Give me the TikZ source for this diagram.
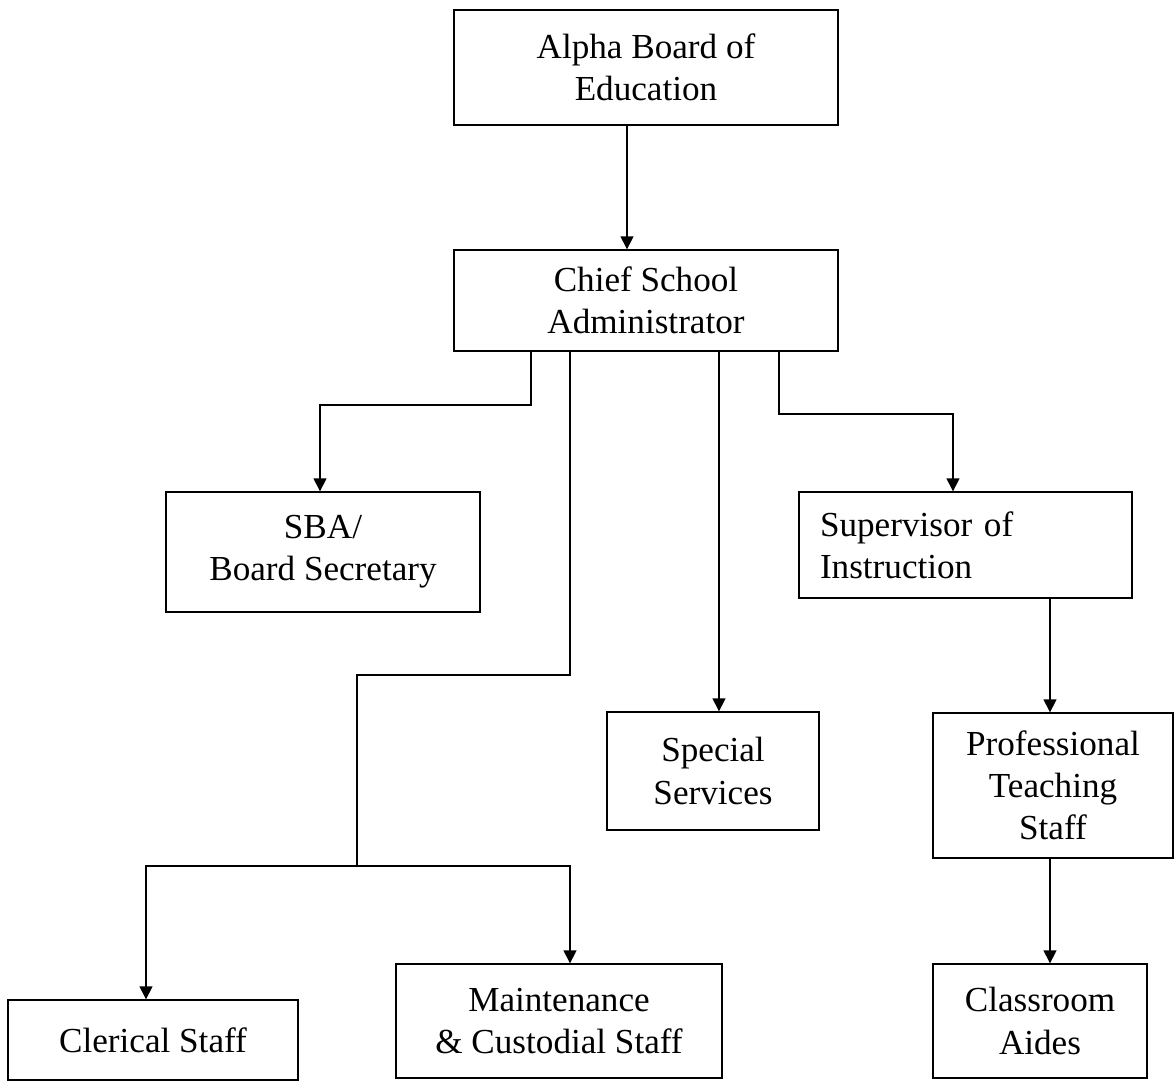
\documentclass[tikz,border=0pt]{standalone}
\usepackage{fontspec}
\setmainfont{Liberation Serif}
\usetikzlibrary{arrows.meta}
\begin{document}
\begin{tikzpicture}[x=0.02cm, y=-0.02cm]
        \tikzstyle{box}=[draw=black, line width=0.8pt, align=center, inner sep=2pt, font=\fontsize{20}{24}\selectfont]
        \tikzstyle{arr}=[draw=black, line width=0.8pt, -{Triangle[length=0.26cm, width=0.26cm]}]

        \useasboundingbox (0,0) rectangle (1176,1082);

        \node (alpha)[box, minimum width=7.68cm, minimum height=2.3cm] at (646,67.5) {Alpha Board of\\Education};
        \node (chief)[box, minimum width=7.68cm, minimum height=2.02cm] at (646,300.5) {Chief School\\Administrator};
        \node (sba)[box, minimum width=6.28cm, minimum height=2.4cm] at (323,552) {SBA/\\Board Secretary};
        \node (sup)[box, align=left, text width=5.82cm, inner xsep=0.42cm, minimum height=2.12cm] at (965.5,545) {Supervisor of\\Instruction};
        \node (spec)[box, minimum width=4.24cm, minimum height=2.36cm] at (713,771) {Special\\Services};
        \node (prof)[box, minimum width=4.8cm, minimum height=2.9cm] at (1053,785.5) {Professional\\Teaching\\Staff};
        \node (cler)[box, minimum width=5.8cm, minimum height=1.6cm] at (153,1040) {Clerical Staff};
        \node (maint)[box, minimum width=6.52cm, minimum height=2.28cm] at (559,1021) {Maintenance\\\& Custodial Staff};
        \node (class)[box, minimum width=4.28cm, minimum height=2.28cm] at (1040,1021) {Classroom\\Aides};

        \draw[arr] (alpha.south -| 627,0) -- (627,0 |- chief.north);
        \draw[arr] (chief.south -| 531,0) -- (531,405) -| (320,0 |- sba.north);
        \draw[arr] (chief.south -| 719,0) -- (719,0 |- spec.north);
        \draw[arr] (chief.south -| 779,0) -- (779,414) -| (953,0 |- sup.north);
        \draw[line width=0.8pt] (chief.south -| 570,0) -- (570,675) -- (357,675) -- (357,866) coordinate (fork);
        \draw[arr] (fork) -| (146,0 |- cler.north);
        \draw[arr] (fork) -| (570,0 |- maint.north);
        \draw[arr] (sup.south -| 1050,0) -- (1050,0 |- prof.north);
        \draw[arr] (prof.south -| 1050,0) -- (1050,0 |- class.north);
\end{tikzpicture}
\end{document}
